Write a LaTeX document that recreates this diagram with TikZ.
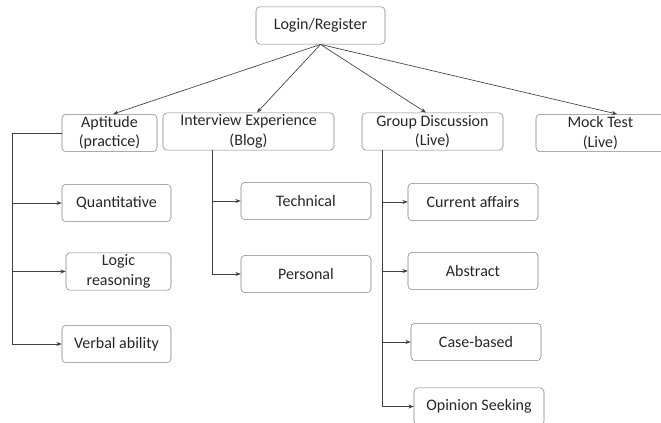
\documentclass[tikz,border=0pt]{standalone}
\usepackage{fontspec}
\setmainfont{Carlito}
\usetikzlibrary{arrows.meta}
\definecolor{boxgray}{HTML}{808080}
\definecolor{linegray}{HTML}{404040}
\definecolor{txtgray}{HTML}{262626}
\begin{document}
\begin{tikzpicture}[x=0.75pt,y=-0.75pt,>={Stealth[length=4pt,width=3pt]}, font=\fontsize{12}{14.5}\selectfont, line join=round,
	box/.style={draw=boxgray, rounded corners=3pt, inner sep=0pt, align=center, text=txtgray, minimum height=28pt},
	link/.style={draw=linegray, line width=0.5pt}]
		\def\px{0.75pt}
		\useasboundingbox (0,0) rectangle (661,423);
		% top levels
		\node[box, minimum width=129*\px] (root) at (320.5,25.5) {Login/Register};
		\node[box, minimum width=95*\px] (apt) at (109.5,133) {Aptitude\\(practice)};
		\node[box, minimum width=171*\px] (ivw) at (248.5,131.5) {Interview Experience\\(Blog)};
		\node[box, minimum width=141*\px] (grp) at (432.5,131.5) {Group Discussion\\(Live)};
		\node[box, minimum width=142*\px] (mock) at (607,133) {\hspace*{-10pt}Mock Test\\\hspace*{-10pt}(Live)};
		% aptitude
		\node[box, minimum width=109*\px] (quant) at (116.5,203) {Quantitative};
		\node[box, minimum width=105*\px] (logic) at (118.5,271.5) {Logic\\reasoning};
		\node[box, minimum width=109*\px] (verb) at (116.5,344) {Verbal ability};
		% interview
		\node[box, minimum width=130*\px] (tech) at (306,201) {Technical};
		\node[box, minimum width=130*\px] (pers) at (306,274) {Personal};
		% group discussion
		\node[box, minimum width=130*\px] (curr) at (473,202) {Current affairs};
		\node[box, minimum width=130*\px] (abst) at (473,271) {Abstract};
		\node[box, minimum width=130*\px] (case) at (476,342) {Case-based};
		\node[box, minimum width=130*\px] (opin) at (479,406.5) {Opinion Seeking};
		% from root
		\draw[link,->] (root.south) -- ([xshift=3.5*\px]apt.north);
		\draw[link,->] (root.south) -- ([xshift=8.5*\px]ivw.north);
		\draw[link,->] (root.south) -- ([xshift=-6.5*\px]grp.north);
		\draw[link,->] (root.south) -- ([xshift=10*\px]mock.north);
		% spines
		\coordinate (aptsp) at (12,133);
		\coordinate (ivwsp) at (212,150);
		\coordinate (grpsp) at (382,150);
		\draw[link] (apt.west) -- (aptsp) -- (aptsp |- verb);
		\foreach \n in {quant,logic,verb} \draw[link,->] (aptsp |- \n) -- (\n.west);
		\draw[link] (ivwsp) -- (ivwsp |- pers);
		\foreach \n in {tech,pers} \draw[link,->] (ivwsp |- \n) -- (\n.west);
		\draw[link] (grpsp) -- (grpsp |- opin);
		\foreach \n in {curr,abst,case,opin} \draw[link,->] (grpsp |- \n) -- (\n.west);
\end{tikzpicture}
\end{document}
